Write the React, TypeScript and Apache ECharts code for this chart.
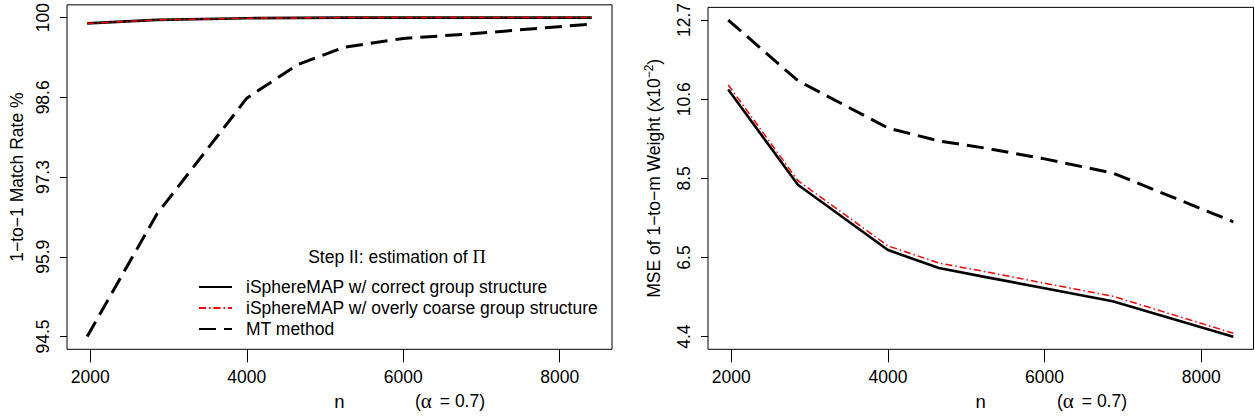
import React, { useEffect, useRef } from "react";
import * as echarts from "echarts";

// sample sizes n
const nValues = [1960, 2850, 4000, 4650, 5250, 6000, 6870, 8410];
// left panel: 1-to-1 match rate (%)
const matchCorrect = [99.9, 99.96, 99.99, 99.995, 100, 100, 100, 100];
const matchCoarse = [99.9, 99.96, 99.99, 99.995, 100, 100, 100, 100];
const matchMT = [94.5, 96.61, 98.61, 99.19, 99.49, 99.64, 99.72, 99.89];
// right panel: MSE of 1-to-m weight (x10^-2)
const mseCorrect = [10.88, 8.38, 6.67, 6.2, 5.96, 5.67, 5.33, 4.4];
const mseCoarse = [11.0, 8.49, 6.78, 6.33, 6.1, 5.8, 5.46, 4.49];
const mseMT = [12.7, 11.11, 9.87, 9.53, 9.34, 9.06, 8.69, 7.41];

const xTicks = [2000, 4000, 6000, 8000];
const matchTicks = [94.5, 95.875, 97.25, 98.625, 100];
const matchTickLabels = ["94.5", "95.9", "97.3", "98.6", "100"];
const mseTicks = [4.4, 6.475, 8.55, 10.625, 12.7];
const mseTickLabels = ["4.4", "6.5", "8.5", "10.6", "12.7"];

const seriesNames = [
  "iSphereMAP w/ correct group structure",
  "iSphereMAP w/ overly coarse group structure",
  "MT method",
];

const FONT = "Liberation Sans";
const SERIF = "Liberation Serif";
const FS = 17.5;

function rRange(arrs: number[][]): [number, number] {
  const all = arrs.flat();
  const lo = Math.min(...all);
  const hi = Math.max(...all);
  const ext = (hi - lo) * 0.04;
  return [lo - ext, hi + ext];
}

function labelFor(ticks: number[], labels: string[]) {
  return (v: number) => {
    const i = ticks.findIndex((t) => Math.abs(t - v) < 1e-6);
    return i >= 0 ? labels[i] : "";
  };
}

const styles = [
  { color: "#000000", width: 2.6, type: "solid" as any },
  { color: "#ff0000", width: 1.5, type: [7, 3, 1.5, 3] as any },
  { color: "#000000", width: 3, type: [17, 8] as any },
];

export default function App() {
  const ref = useRef<HTMLDivElement>(null);
  useEffect(() => {
    document.body.style.margin = "0";
    if (!ref.current) return;
    const chart = echarts.init(ref.current, undefined, { renderer: "svg" });
    const xr = rRange([nValues]);
    const yl = rRange([matchCorrect, matchCoarse, matchMT]);
    const yr = rRange([mseCorrect, mseCoarse, mseMT]);

    const xAxisBase = (gi: number) => ({
      type: "value",
      gridIndex: gi,
      min: xr[0],
      max: xr[1],
      axisLine: { show: false },
      splitLine: { show: false },
      axisTick: {
        show: true,
        length: 13,
        customValues: xTicks,
        lineStyle: { color: "#000", width: 1 },
      },
      axisLabel: {
        customValues: xTicks,
        margin: 19,
        fontSize: FS,
        fontFamily: FONT,
        color: "#000",
        formatter: (v: number) => String(v),
      },
      name: "n",
      nameLocation: "middle",
      nameGap: 43,
      nameTextStyle: { fontSize: FS + 1, fontFamily: FONT, color: "#000" },
    });

    const yAxisBase = (
      gi: number,
      range: [number, number],
      ticks: number[],
      labels: string[],
      name: string,
      nameGap: number
    ) => ({
      type: "value",
      gridIndex: gi,
      min: range[0],
      max: range[1],
      axisLine: { show: false },
      splitLine: { show: false },
      axisTick: {
        show: true,
        length: 7,
        customValues: ticks,
        lineStyle: { color: "#000", width: 1 },
      },
      axisLabel: {
        customValues: ticks,
        rotate: 90,
        margin: 15,
        fontSize: FS,
        fontFamily: FONT,
        color: "#000",
        formatter: labelFor(ticks, labels),
      },
      name,
      nameLocation: "middle",
      nameRotate: 90,
      nameGap,
      nameTextStyle: {
        fontSize: FS,
        fontFamily: FONT,
        color: "#000",
        rich: {
          a: { fontSize: FS, fontFamily: FONT, color: "#000" },
          sup: {
            fontSize: 12,
            fontFamily: FONT,
            color: "#000",
            verticalAlign: "top",
            padding: [0, 0, 9, 0],
          },
        },
      },
    });

    const mkSeries = (idx: number, data: number[], axis: number) => ({
      type: "line",
      name: seriesNames[idx],
      xAxisIndex: axis,
      yAxisIndex: axis,
      data: nValues.map((x, i) => [x, data[i]]),
      symbol: "none",
      silent: true,
      z: 2 + (idx === 1 ? 2 : idx === 2 ? 1 : 0),
      itemStyle: { color: styles[idx].color },
      lineStyle: { ...styles[idx], cap: "butt" },
    });

    const alphaText = (cx: number) => ({
      type: "text",
      x: cx,
      y: 401,
      style: {
        text: "{p|(}{g|α}{sp|}{p|= 0.7)}",
        align: "center",
        verticalAlign: "middle",
        rich: {
          p: { fontSize: FS, fontFamily: FONT, fill: "#000" },
          g: { fontSize: 21, fontFamily: SERIF, fill: "#000" },
          sp: { width: 8, fontSize: FS },
        },
      },
    });

    chart.setOption({
      animation: false,
      backgroundColor: "#ffffff",
      grid: [
        {
          left: 67,
          top: 3.3,
          width: 545,
          height: 346,
          show: true,
          borderColor: "#000",
          borderWidth: 1,
          backgroundColor: "transparent",
        },
        {
          left: 708,
          top: 3.3,
          width: 545.5,
          height: 346,
          show: true,
          borderColor: "#000",
          borderWidth: 1,
          backgroundColor: "transparent",
        },
      ],
      xAxis: [xAxisBase(0), xAxisBase(1)],
      yAxis: [
        yAxisBase(0, yl, matchTicks, matchTickLabels, "1−to−1 Match Rate %", 41),
        yAxisBase(
          1,
          yr,
          mseTicks,
          mseTickLabels,
          "{a|MSE of 1−to−m Weight (x10}{sup|−2}{a|)}",
          44
        ),
      ],
      legend: {
        show: true,
        orient: "vertical",
        left: 198,
        top: 276.5,
        padding: 0,
        itemGap: 0,
        itemWidth: 33,
        itemHeight: 14,
        selectedMode: false,
        data: seriesNames,
        itemStyle: { opacity: 0 },
        textStyle: {
          fontSize: FS,
          fontFamily: FONT,
          color: "#000",
          lineHeight: 21,
          padding: [0, 0, 0, 9],
        },
      },
      graphic: [
        {
          type: "text",
          x: 397,
          y: 257,
          style: {
            text: "{p|Step II: estimation of }{g|Π}",
            align: "center",
            verticalAlign: "middle",
            rich: {
              p: { fontSize: FS, fontFamily: FONT, fill: "#000" },
              g: { fontSize: FS + 1, fontFamily: SERIF, fill: "#000" },
            },
          },
        },
        alphaText(450),
        alphaText(1092),
      ],
      series: [
        mkSeries(0, matchCorrect, 0),
        mkSeries(1, matchCoarse, 0),
        mkSeries(2, matchMT, 0),
        mkSeries(0, mseCorrect, 1),
        mkSeries(1, mseCoarse, 1),
        mkSeries(2, mseMT, 1),
      ],
    });
    return () => chart.dispose();
  }, []);
  return <div ref={ref} style={{ width: 1255, height: 419 }} />;
}
